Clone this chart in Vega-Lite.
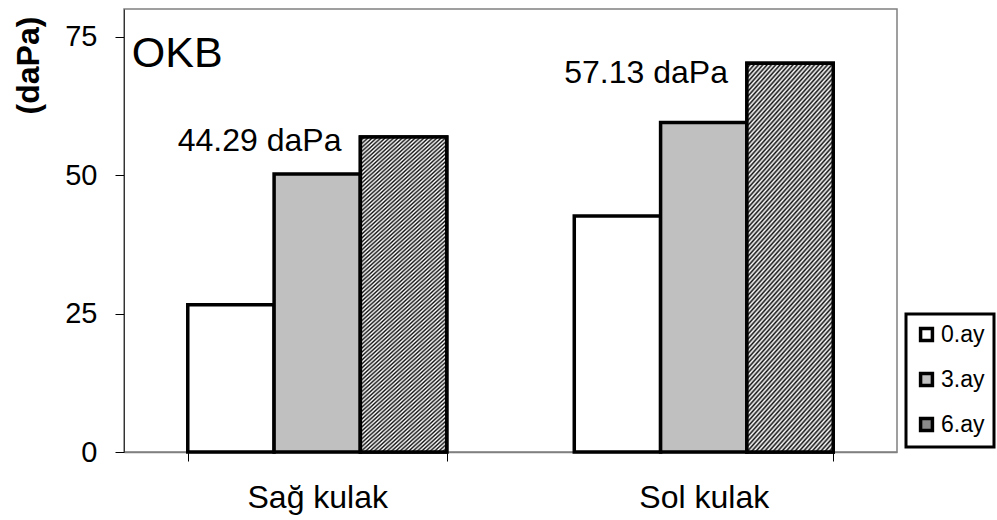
{
"$schema": "https://vega.github.io/schema/vega-lite/v6.json",
"width": 773,
"height": 443,
"autosize": {"type": "none"},
"padding": {"left": 124, "top": 9, "right": 100, "bottom": 68},
"background": "white",
"config": {"font": "Liberation Sans", "view": {"stroke": "#808080", "strokeWidth": 1.5}},
"datasets": {
"bars": [
{"ear": "Sağ kulak", "period": "0.ay", "value": 26.6},
{"ear": "Sağ kulak", "period": "3.ay", "value": 50.2},
{"ear": "Sağ kulak", "period": "6.ay", "value": 56.9},
{"ear": "Sol kulak", "period": "0.ay", "value": 42.6},
{"ear": "Sol kulak", "period": "3.ay", "value": 59.5},
{"ear": "Sol kulak", "period": "6.ay", "value": 70.2}
],
"notes": [
{"ear": "Sağ kulak", "label": "44.29 daPa", "value": 54.4},
{"ear": "Sol kulak", "label": "57.13 daPa", "value": 66.6}
],
"heading": [
{"ear": "Sağ kulak", "label": "OKB", "value": 69.6}
]
},
"layer": [
{
"data": {"name": "bars"},
"mark": {"type": "bar", "stroke": "black", "strokeWidth": 3.5, "strokeJoin": "miter"},
"encoding": {
"x": {"field": "ear", "type": "nominal", "sort": null,
"scale": {"paddingInner": 0.33, "paddingOuter": 0.165},
"axis": {"title": null, "tickBand": "extent", "labelAngle": 0, "labelFontSize": 32, "labelColor": "black", "labelPadding": 21, "tickSize": 9, "tickColor": "black", "domainColor": "#808080", "domainWidth": 1.5, "grid": false}},
"xOffset": {"field": "period", "type": "nominal", "sort": null, "scale": {"paddingInner": 0, "paddingOuter": 0}},
"y": {"field": "value", "type": "quantitative",
"scale": {"domain": [0, 80], "nice": false},
"axis": {"values": [0, 25, 50, 75], "title": "(daPa)", "titleFontSize": 32, "titleFontWeight": "bold", "titleColor": "black", "titleX": -96, "titleY": 56, "titleAngle": -90, "titleAlign": "center", "titleBaseline": "middle", "labelFontSize": 29, "labelColor": "black", "labelPadding": 18, "tickSize": 9, "tickColor": "black", "domainColor": "#333333", "grid": false}},
"fill": {"field": "period", "type": "nominal", "sort": null,
"scale": {"range": ["#ffffff", "#c0c0c0", "#8a8a8a"]},
"legend": {"title": null, "orient": "none", "legendX": 782, "legendY": 305, "labelFontSize": 23, "labelColor": "black", "symbolType": "square", "symbolSize": 140, "symbolStrokeColor": "black", "symbolStrokeWidth": 3.5, "strokeColor": "black", "fillColor": "white", "padding": 9, "rowPadding": 18, "labelOffset": 3,
"encode": {"legend": {"update": {"strokeWidth": {"value": 3}}},
"symbols": {"update": {"stroke": {"value": "black"}, "strokeWidth": {"value": 3.5}, "fill": [{"test": "datum.value === '6.ay'", "value": {"gradient": "linear", "x1": 0, "y1": 0, "x2": 1, "y2": 1, "stops": [{"offset": 0, "color": "#fff"}, {"offset": 0.36, "color": "#fff"}, {"offset": 0.5, "color": "#222"}, {"offset": 0.64, "color": "#fff"}, {"offset": 1, "color": "#fff"}]}}, {"scale": "fill", "field": "value"}]}}}}
}
}
},
{
"data": {"name": "bars"},
"transform": [{"filter": "datum.period === '6.ay'"}],
"mark": {"type": "bar", "stroke": "black", "strokeWidth": 3.5, "strokeJoin": "miter",
"fill": {"gradient": "linear", "x1": 0, "y1": 0, "x2": 0.294, "y2": 1.176, "stops": [
{"offset":0,"color":"#111"},{"offset":0.005,"color":"#fff"},{"offset":0.01,"color":"#111"},{"offset":0.015,"color":"#fff"},{"offset":0.02,"color":"#111"},{"offset":0.025,"color":"#fff"},{"offset":0.03,"color":"#111"},{"offset":0.035,"color":"#fff"},{"offset":0.04,"color":"#111"},{"offset":0.045,"color":"#fff"},
{"offset":0.05,"color":"#111"},{"offset":0.055,"color":"#fff"},{"offset":0.06,"color":"#111"},{"offset":0.065,"color":"#fff"},{"offset":0.07,"color":"#111"},{"offset":0.075,"color":"#fff"},{"offset":0.08,"color":"#111"},{"offset":0.085,"color":"#fff"},{"offset":0.09,"color":"#111"},{"offset":0.095,"color":"#fff"},
{"offset":0.1,"color":"#111"},{"offset":0.105,"color":"#fff"},{"offset":0.11,"color":"#111"},{"offset":0.115,"color":"#fff"},{"offset":0.12,"color":"#111"},{"offset":0.125,"color":"#fff"},{"offset":0.13,"color":"#111"},{"offset":0.135,"color":"#fff"},{"offset":0.14,"color":"#111"},{"offset":0.145,"color":"#fff"},
{"offset":0.15,"color":"#111"},{"offset":0.155,"color":"#fff"},{"offset":0.16,"color":"#111"},{"offset":0.165,"color":"#fff"},{"offset":0.17,"color":"#111"},{"offset":0.175,"color":"#fff"},{"offset":0.18,"color":"#111"},{"offset":0.185,"color":"#fff"},{"offset":0.19,"color":"#111"},{"offset":0.195,"color":"#fff"},
{"offset":0.2,"color":"#111"},{"offset":0.205,"color":"#fff"},{"offset":0.21,"color":"#111"},{"offset":0.215,"color":"#fff"},{"offset":0.22,"color":"#111"},{"offset":0.225,"color":"#fff"},{"offset":0.23,"color":"#111"},{"offset":0.235,"color":"#fff"},{"offset":0.24,"color":"#111"},{"offset":0.245,"color":"#fff"},
{"offset":0.25,"color":"#111"},{"offset":0.255,"color":"#fff"},{"offset":0.26,"color":"#111"},{"offset":0.265,"color":"#fff"},{"offset":0.27,"color":"#111"},{"offset":0.275,"color":"#fff"},{"offset":0.28,"color":"#111"},{"offset":0.285,"color":"#fff"},{"offset":0.29,"color":"#111"},{"offset":0.295,"color":"#fff"},
{"offset":0.3,"color":"#111"},{"offset":0.305,"color":"#fff"},{"offset":0.31,"color":"#111"},{"offset":0.315,"color":"#fff"},{"offset":0.32,"color":"#111"},{"offset":0.325,"color":"#fff"},{"offset":0.33,"color":"#111"},{"offset":0.335,"color":"#fff"},{"offset":0.34,"color":"#111"},{"offset":0.345,"color":"#fff"},
{"offset":0.35,"color":"#111"},{"offset":0.355,"color":"#fff"},{"offset":0.36,"color":"#111"},{"offset":0.365,"color":"#fff"},{"offset":0.37,"color":"#111"},{"offset":0.375,"color":"#fff"},{"offset":0.38,"color":"#111"},{"offset":0.385,"color":"#fff"},{"offset":0.39,"color":"#111"},{"offset":0.395,"color":"#fff"},
{"offset":0.4,"color":"#111"},{"offset":0.405,"color":"#fff"},{"offset":0.41,"color":"#111"},{"offset":0.415,"color":"#fff"},{"offset":0.42,"color":"#111"},{"offset":0.425,"color":"#fff"},{"offset":0.43,"color":"#111"},{"offset":0.435,"color":"#fff"},{"offset":0.44,"color":"#111"},{"offset":0.445,"color":"#fff"},
{"offset":0.45,"color":"#111"},{"offset":0.455,"color":"#fff"},{"offset":0.46,"color":"#111"},{"offset":0.465,"color":"#fff"},{"offset":0.47,"color":"#111"},{"offset":0.475,"color":"#fff"},{"offset":0.48,"color":"#111"},{"offset":0.485,"color":"#fff"},{"offset":0.49,"color":"#111"},{"offset":0.495,"color":"#fff"},
{"offset":0.5,"color":"#111"},{"offset":0.505,"color":"#fff"},{"offset":0.51,"color":"#111"},{"offset":0.515,"color":"#fff"},{"offset":0.52,"color":"#111"},{"offset":0.525,"color":"#fff"},{"offset":0.53,"color":"#111"},{"offset":0.535,"color":"#fff"},{"offset":0.54,"color":"#111"},{"offset":0.545,"color":"#fff"},
{"offset":0.55,"color":"#111"},{"offset":0.555,"color":"#fff"},{"offset":0.56,"color":"#111"},{"offset":0.565,"color":"#fff"},{"offset":0.57,"color":"#111"},{"offset":0.575,"color":"#fff"},{"offset":0.58,"color":"#111"},{"offset":0.585,"color":"#fff"},{"offset":0.59,"color":"#111"},{"offset":0.595,"color":"#fff"},
{"offset":0.6,"color":"#111"},{"offset":0.605,"color":"#fff"},{"offset":0.61,"color":"#111"},{"offset":0.615,"color":"#fff"},{"offset":0.62,"color":"#111"},{"offset":0.625,"color":"#fff"},{"offset":0.63,"color":"#111"},{"offset":0.635,"color":"#fff"},{"offset":0.64,"color":"#111"},{"offset":0.645,"color":"#fff"},
{"offset":0.65,"color":"#111"},{"offset":0.655,"color":"#fff"},{"offset":0.66,"color":"#111"},{"offset":0.665,"color":"#fff"},{"offset":0.67,"color":"#111"},{"offset":0.675,"color":"#fff"},{"offset":0.68,"color":"#111"},{"offset":0.685,"color":"#fff"},{"offset":0.69,"color":"#111"},{"offset":0.695,"color":"#fff"},
{"offset":0.7,"color":"#111"},{"offset":0.705,"color":"#fff"},{"offset":0.71,"color":"#111"},{"offset":0.715,"color":"#fff"},{"offset":0.72,"color":"#111"},{"offset":0.725,"color":"#fff"},{"offset":0.73,"color":"#111"},{"offset":0.735,"color":"#fff"},{"offset":0.74,"color":"#111"},{"offset":0.745,"color":"#fff"},
{"offset":0.75,"color":"#111"},{"offset":0.755,"color":"#fff"},{"offset":0.76,"color":"#111"},{"offset":0.765,"color":"#fff"},{"offset":0.77,"color":"#111"},{"offset":0.775,"color":"#fff"},{"offset":0.78,"color":"#111"},{"offset":0.785,"color":"#fff"},{"offset":0.79,"color":"#111"},{"offset":0.795,"color":"#fff"},
{"offset":0.8,"color":"#111"},{"offset":0.805,"color":"#fff"},{"offset":0.81,"color":"#111"},{"offset":0.815,"color":"#fff"},{"offset":0.82,"color":"#111"},{"offset":0.825,"color":"#fff"},{"offset":0.83,"color":"#111"},{"offset":0.835,"color":"#fff"},{"offset":0.84,"color":"#111"},{"offset":0.845,"color":"#fff"},
{"offset":0.85,"color":"#111"},{"offset":0.855,"color":"#fff"},{"offset":0.86,"color":"#111"},{"offset":0.865,"color":"#fff"},{"offset":0.87,"color":"#111"},{"offset":0.875,"color":"#fff"},{"offset":0.88,"color":"#111"},{"offset":0.885,"color":"#fff"},{"offset":0.89,"color":"#111"},{"offset":0.895,"color":"#fff"},
{"offset":0.9,"color":"#111"},{"offset":0.905,"color":"#fff"},{"offset":0.91,"color":"#111"},{"offset":0.915,"color":"#fff"},{"offset":0.92,"color":"#111"},{"offset":0.925,"color":"#fff"},{"offset":0.93,"color":"#111"},{"offset":0.935,"color":"#fff"},{"offset":0.94,"color":"#111"},{"offset":0.945,"color":"#fff"},
{"offset":0.95,"color":"#111"},{"offset":0.955,"color":"#fff"},{"offset":0.96,"color":"#111"},{"offset":0.965,"color":"#fff"},{"offset":0.97,"color":"#111"},{"offset":0.975,"color":"#fff"},{"offset":0.98,"color":"#111"},{"offset":0.985,"color":"#fff"},{"offset":0.99,"color":"#111"},{"offset":0.995,"color":"#fff"},
{"offset":1,"color":"#111"}
]}},
"encoding": {
"x": {"field": "ear", "type": "nominal", "sort": null},
"xOffset": {"field": "period", "type": "nominal", "sort": null},
"y": {"field": "value", "type": "quantitative"}
}
},
{
"data": {"name": "notes"},
"mark": {"type": "text", "align": "left", "baseline": "alphabetic", "dx": -10, "fontSize": 32, "color": "black"},
"encoding": {
"x": {"field": "ear", "type": "nominal", "sort": null, "bandPosition": 0},
"y": {"field": "value", "type": "quantitative"},
"text": {"field": "label"}
}
},
{
"data": {"name": "heading"},
"mark": {"type": "text", "align": "left", "baseline": "alphabetic", "dx": -56, "fontSize": 43, "color": "black"},
"encoding": {
"x": {"field": "ear", "type": "nominal", "sort": null, "bandPosition": 0},
"y": {"field": "value", "type": "quantitative"},
"text": {"field": "label"}
}
}
]
}
